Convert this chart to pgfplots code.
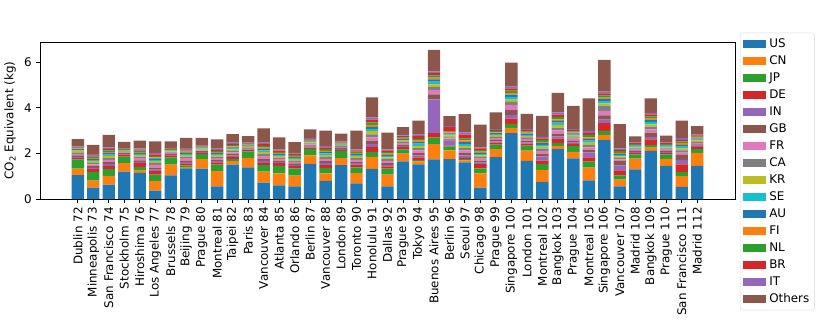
\documentclass[border=0pt]{standalone}
\usepackage{fontspec}
\setmainfont{DejaVu Sans}
\usepackage{pgfplots}
\usepackage{pgfplotstable}
\pgfplotsset{compat=1.18}
\definecolor{c0}{HTML}{1F77B4}
\definecolor{c1}{HTML}{FF7F0E}
\definecolor{c2}{HTML}{2CA02C}
\definecolor{c3}{HTML}{D62728}
\definecolor{c4}{HTML}{9467BD}
\definecolor{c5}{HTML}{8C564B}
\definecolor{c6}{HTML}{E377C2}
\definecolor{c7}{HTML}{7F7F7F}
\definecolor{c8}{HTML}{BCBD22}
\definecolor{c9}{HTML}{17BECF}
\pgfplotstableread{
x US CN JP DE IN GB FR CA KR SE AU FI NL BR IT Others
0 1.05 0.28 0.41 0.06 0.05 0.06 0.06 0.05 0.10 0.04 0.03 0.03 0.03 0.03 0.03 0.32
1 0.50 0.31 0.37 0.13 0.06 0.07 0.08 0.07 0.07 0.05 0.05 0.04 0.06 0.06 0.05 0.41
2 0.63 0.39 0.29 0.15 0.07 0.09 0.10 0.08 0.09 0.06 0.06 0.05 0.07 0.07 0.07 0.54
3 1.20 0.38 0.28 0.09 0.03 0.03 0.03 0.03 0.03 0.02 0.02 0.02 0.03 0.02 0.02 0.28
4 1.15 0.10 0.15 0.17 0.06 0.07 0.10 0.06 0.07 0.05 0.05 0.04 0.05 0.05 0.05 0.34
5 0.37 0.41 0.29 0.15 0.07 0.09 0.12 0.08 0.08 0.06 0.06 0.05 0.06 0.07 0.07 0.50
6 1.04 0.47 0.32 0.08 0.03 0.04 0.04 0.03 0.04 0.03 0.02 0.02 0.03 0.03 0.02 0.29
7 1.35 0.05 0.08 0.08 0.06 0.07 0.10 0.07 0.07 0.05 0.05 0.05 0.05 0.05 0.05 0.45
8 1.33 0.42 0.23 0.05 0.03 0.04 0.04 0.03 0.04 0.03 0.02 0.02 0.03 0.03 0.02 0.32
9 0.56 0.66 0.29 0.10 0.05 0.07 0.07 0.06 0.07 0.05 0.04 0.04 0.05 0.05 0.05 0.41
10 1.51 0.15 0.09 0.10 0.05 0.07 0.08 0.06 0.07 0.05 0.04 0.04 0.06 0.05 0.05 0.38
11 1.39 0.42 0.28 0.06 0.03 0.04 0.04 0.03 0.04 0.03 0.02 0.02 0.03 0.02 0.02 0.29
12 0.72 0.48 0.29 0.10 0.08 0.10 0.11 0.09 0.10 0.07 0.06 0.05 0.08 0.08 0.06 0.63
13 0.60 0.53 0.32 0.12 0.05 0.07 0.07 0.06 0.07 0.05 0.04 0.04 0.05 0.05 0.05 0.53
14 0.56 0.47 0.32 0.10 0.05 0.06 0.07 0.06 0.07 0.05 0.04 0.04 0.05 0.05 0.04 0.47
15 1.54 0.37 0.29 0.06 0.04 0.05 0.05 0.04 0.05 0.03 0.03 0.03 0.03 0.03 0.03 0.39
16 0.80 0.32 0.25 0.12 0.08 0.09 0.10 0.08 0.09 0.07 0.06 0.05 0.08 0.08 0.06 0.67
17 1.49 0.31 0.31 0.05 0.04 0.04 0.05 0.04 0.04 0.03 0.03 0.03 0.03 0.03 0.03 0.32
18 0.69 0.45 0.25 0.12 0.06 0.07 0.08 0.07 0.09 0.05 0.05 0.05 0.05 0.05 0.05 0.82
19 1.32 0.53 0.22 0.22 0.13 0.14 0.15 0.13 0.14 0.10 0.09 0.08 0.11 0.12 0.10 0.88
20 0.56 0.51 0.26 0.10 0.07 0.08 0.09 0.08 0.08 0.06 0.05 0.05 0.07 0.07 0.05 0.73
21 1.65 0.34 0.19 0.10 0.05 0.06 0.06 0.05 0.06 0.04 0.04 0.03 0.04 0.05 0.03 0.37
22 1.52 0.13 0.06 0.12 0.08 0.10 0.12 0.10 0.10 0.10 0.07 0.06 0.08 0.12 0.07 0.61
23 1.74 0.67 0.28 0.20 1.48 0.22 0.20 0.12 0.12 0.12 0.10 0.08 0.10 0.09 0.08 0.94
24 1.75 0.38 0.18 0.03 0.22 0.06 0.04 0.05 0.08 0.05 0.04 0.04 0.04 0.21 0.03 0.44
25 1.61 0.09 0.05 0.06 0.10 0.10 0.12 0.10 0.10 0.09 0.08 0.07 0.08 0.18 0.10 0.80
26 0.50 0.63 0.22 0.18 0.07 0.08 0.09 0.07 0.08 0.06 0.05 0.05 0.07 0.07 0.05 1.00
27 1.84 0.35 0.20 0.09 0.05 0.07 0.07 0.06 0.07 0.05 0.04 0.04 0.05 0.05 0.04 0.73
28 2.89 0.23 0.18 0.23 0.15 0.22 0.22 0.14 0.10 0.12 0.10 0.08 0.10 0.09 0.08 1.05
29 1.67 0.45 0.22 0.09 0.06 0.07 0.08 0.06 0.07 0.05 0.05 0.04 0.06 0.05 0.05 0.67
30 0.75 0.53 0.25 0.15 0.19 0.12 0.12 0.10 0.09 0.08 0.07 0.06 0.08 0.07 0.07 0.92
31 2.19 0.13 0.13 0.20 0.10 0.12 0.14 0.12 0.12 0.10 0.08 0.07 0.10 0.10 0.10 0.86
32 1.78 0.29 0.25 0.10 0.06 0.07 0.10 0.06 0.07 0.05 0.05 0.04 0.05 0.05 0.05 1.02
33 0.82 0.56 0.26 0.19 0.22 0.12 0.10 0.10 0.10 0.09 0.08 0.07 0.10 0.09 0.09 1.43
34 2.59 0.22 0.18 0.34 0.15 0.19 0.20 0.23 0.10 0.10 0.08 0.07 0.10 0.09 0.07 1.40
35 0.56 0.29 0.19 0.22 0.22 0.18 0.08 0.07 0.06 0.06 0.05 0.05 0.07 0.06 0.06 1.07
36 1.30 0.47 0.19 0.05 0.05 0.05 0.06 0.05 0.05 0.04 0.04 0.03 0.04 0.04 0.03 0.26
37 2.11 0.15 0.10 0.26 0.10 0.19 0.15 0.12 0.10 0.10 0.08 0.07 0.10 0.08 0.07 0.64
38 1.45 0.31 0.20 0.05 0.05 0.05 0.06 0.05 0.05 0.04 0.04 0.03 0.04 0.04 0.03 0.29
39 0.53 0.47 0.18 0.34 0.20 0.22 0.10 0.09 0.09 0.08 0.08 0.07 0.08 0.07 0.07 0.77
40 1.46 0.57 0.16 0.10 0.05 0.06 0.06 0.05 0.06 0.04 0.04 0.04 0.05 0.05 0.04 0.37
}\data
\pgfplotsset{
  mybar/.style={fill=#1, draw=none,
    legend image code/.code={\path[sharp corners, fill=#1] (0pt,-3.5pt) rectangle (20pt,3.5pt);}},
}
\begin{document}
\begin{tikzpicture}
\begin{axis}[
  width=583.8pt, height=131.9pt, scale only axis,
  ybar stacked, bar width=0.8,
  xmin=-2.44, xmax=42.44, ymin=0, ymax=6.89,
  enlargelimits=false,
  axis line style={line width=0.8pt},
  tick style={black, line width=0.8pt},
  tick align=outside, major tick length=3.5pt,
  xtick pos=bottom, ytick pos=left,
  xtick={0,...,40},
  xticklabels={Dublin 72, Minneapolis 73, San Francisco 74, Stockholm 75, Hiroshima 76, Los Angeles 77, Brussels 78, Beijing 79, Prague 80, Montreal 81, Taipei 82, Paris 83, Vancouver 84, Atlanta 85, Orlando 86, Berlin 87, Vancouver 88, London 89, Toronto 90, Honolulu 91, Dallas 92, Prague 93, Tokyo 94, Buenos Aires 95, Berlin 96, Seoul 97, Chicago 98, Prague 99, Singapore 100, London 101, Montreal 102, Bangkok 103, Prague 104, Montreal 105, Singapore 106, Vancouver 107, Madrid 108, Bangkok 109, Prague 110, San Francisco 111, Madrid 112},
  xticklabel style={rotate=90, anchor=east, font=\fontsize{10}{12}\selectfont},
  ytick={0,2,4,6},
  yticklabel style={font=\fontsize{10}{12}\selectfont},
  /pgf/number format/assume math mode=true,
  ylabel={CO\textsubscript{2} Equivalent (kg)},
  ylabel style={font=\fontsize{10}{12}\selectfont},
  legend style={at={(1.0072,1.059)}, anchor=north west, draw=black!15, rounded corners=2pt,
    font=\fontsize{10}{12}\selectfont, inner sep=2pt,
    nodes={inner sep=2.4pt, text height=7.5pt, text depth=2pt, sharp corners},
    /tikz/every even column/.append style={column sep=2pt}},
  legend cell align=left,
]
\addplot[mybar=c0] table[x=x,y=US]{\data}; \addlegendentry{US}
\addplot[mybar=c1] table[x=x,y=CN]{\data}; \addlegendentry{CN}
\addplot[mybar=c2] table[x=x,y=JP]{\data}; \addlegendentry{JP}
\addplot[mybar=c3] table[x=x,y=DE]{\data}; \addlegendentry{DE}
\addplot[mybar=c4] table[x=x,y=IN]{\data}; \addlegendentry{IN}
\addplot[mybar=c5] table[x=x,y=GB]{\data}; \addlegendentry{GB}
\addplot[mybar=c6] table[x=x,y=FR]{\data}; \addlegendentry{FR}
\addplot[mybar=c7] table[x=x,y=CA]{\data}; \addlegendentry{CA}
\addplot[mybar=c8] table[x=x,y=KR]{\data}; \addlegendentry{KR}
\addplot[mybar=c9] table[x=x,y=SE]{\data}; \addlegendentry{SE}
\addplot[mybar=c0] table[x=x,y=AU]{\data}; \addlegendentry{AU}
\addplot[mybar=c1] table[x=x,y=FI]{\data}; \addlegendentry{FI}
\addplot[mybar=c2] table[x=x,y=NL]{\data}; \addlegendentry{NL}
\addplot[mybar=c3] table[x=x,y=BR]{\data}; \addlegendentry{BR}
\addplot[mybar=c4] table[x=x,y=IT]{\data}; \addlegendentry{IT}
\addplot[mybar=c5] table[x=x,y=Others]{\data}; \addlegendentry{Others}
\node[anchor=south west, inner sep=0pt, font=\fontsize{10}{12}\selectfont] at (rel axis cs:0,1.025) {1e6};
\coordinate (bbl) at (rel axis cs:-0.0576,-0.809);
\coordinate (btr) at (rel axis cs:1.1367,1.2675);
\end{axis}
\pgfresetboundingbox
\useasboundingbox (bbl) rectangle (btr);
\end{tikzpicture}
\end{document}
